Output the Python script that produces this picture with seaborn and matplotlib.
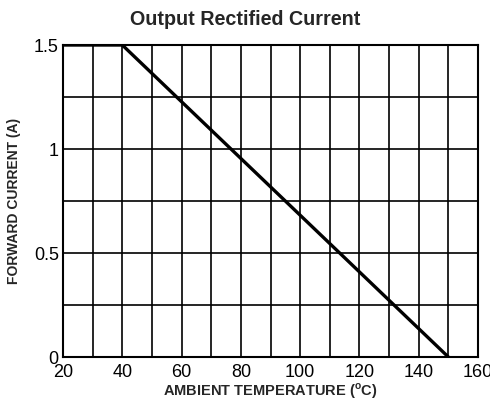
import matplotlib
matplotlib.use("Agg")
import matplotlib.pyplot as plt
import seaborn as sns
import pandas as pd
import numpy as np

temperature = [20, 40, 150]
current = [1.5, 1.5, 0.0]
x_ticks = [20, 40, 60, 80, 100, 120, 140, 160]
y_ticks = [0, 0.5, 1, 1.5]
y_tick_labels = ["0", "0.5", "1", "1.5"]

sns.set_theme(style="white")
plt.rcParams['font.family'] = ['Liberation Sans', 'DejaVu Sans']
plt.rcParams['mathtext.fontset'] = 'custom'
plt.rcParams['mathtext.rm'] = 'Liberation Sans'
plt.rcParams['mathtext.bf'] = 'Liberation Sans:bold'

fig = plt.figure(figsize=(4.9, 4.07), dpi=100)
ax = fig.add_axes([63/490, 1-357/407, (478-63)/490, (357-45)/407])

df = pd.DataFrame({"T": temperature, "I": current})
sns.lineplot(data=df, x="T", y="I", ax=ax, color="black", linewidth=2.4)

ax.set_xlim(20, 160)
ax.set_ylim(0, 1.5)
ax.set_xticks(np.arange(20, 161, 10), minor=False)
ax.set_yticks(np.arange(0, 1.51, 0.25))
ax.set_xticklabels([str(t) if t in x_ticks else "" for t in range(20, 161, 10)])
ax.set_yticklabels([("%g" % v) if v in y_ticks else "" for v in np.arange(0, 1.51, 0.25)])
ax.grid(True, color="black", linewidth=1.2)
ax.tick_params(axis='y', length=0, labelsize=13, colors="black", pad=3)
ax.tick_params(axis='x', length=0, labelsize=13, colors="black", pad=5)
for s in ax.spines.values():
    s.set_color("black")
    s.set_linewidth(1.5)

ax.set_xlabel(r"AMBIENT TEMPERATURE ($^{\mathbf{o}}$C)", fontsize=10.5, fontweight="bold", labelpad=0)
ax.set_ylabel("FORWARD CURRENT (A)", fontsize=10, fontweight="bold", labelpad=9)
fig.suptitle("Output Rectified Current", fontsize=14.2, fontweight="bold", x=0.5, y=0.975)

fig.savefig("out.png", dpi=100)
